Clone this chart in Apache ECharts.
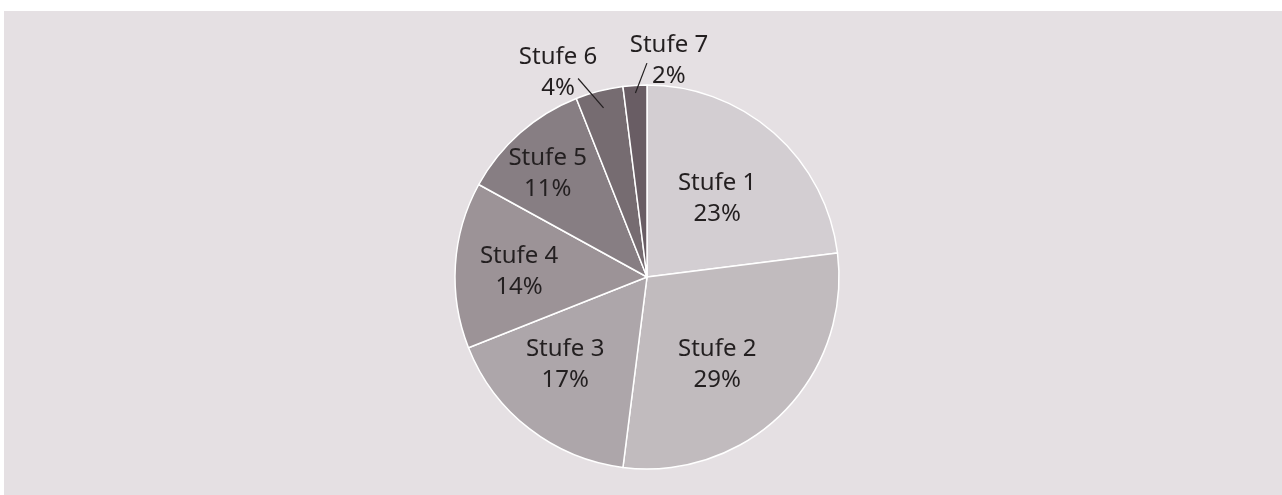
<!DOCTYPE html>
<html>
<head>
<meta charset="utf-8">
<script src="https://cdn.jsdelivr.net/npm/echarts@6/dist/echarts.min.js"></script>
<style>
  html, body { margin: 0; padding: 0; background: #ffffff; width: 1282px; height: 495px; overflow: hidden; }
  #chart { position: absolute; left: 4px; top: 11px; width: 1278px; height: 484px; background: #e5e0e3; }
</style>
</head>
<body>
<div id="chart"></div>
<script>
// ---- data ----
const categories = ['Stufe 1', 'Stufe 2', 'Stufe 3', 'Stufe 4', 'Stufe 5', 'Stufe 6', 'Stufe 7'];
const shares = [23, 29, 17, 14, 11, 4, 2];

// ---- style ----
const sliceColors = ['#d3ced2', '#c1bbbe', '#ada6aa', '#9c9397', '#877e83', '#766c71', '#695d64'];
const CX = 643, CY = 266, R = 192;
// label placement: [radius, angle in degrees clockwise from top]
const labelPolar = [[105, 41.9], [112, 141.2], [120, 223], [128, 272.2], [143, 316], [223, 336.5], [217, 5.8]];
const outsideLabels = [5, 6];
// leader line end offsets relative to label centre, start radius factor
const lineEndOffset = { 5: [20, 6], 6: [-22, 2] };
const lineStartFactor = { 5: 0.91, 6: 0.96 };
const textColor = '#231f20';
const fontFamily = '"Noto Sans", "Open Sans", sans-serif';

const total = shares.reduce((a, b) => a + b, 0);
const midAngles = [];
let acc = 0;
shares.forEach(v => { midAngles.push((acc + v / 2) / total * 360); acc += v; });

function polar(r, deg) {
  const a = deg * Math.PI / 180;
  return [CX + r * Math.sin(a), CY - r * Math.cos(a)];
}

const labelStyle = {
  formatter: '{b}\n{c}%',
  color: textColor,
  fontFamily: fontFamily,
  fontSize: 24,
  lineHeight: 31,
  align: 'center'
};

function layoutFn(p) {
  const i = p.dataIndex;
  const pos = polar(labelPolar[i][0], labelPolar[i][1]);
  const res = { x: pos[0], y: pos[1], align: 'center', verticalAlign: 'middle' };
  if (lineEndOffset[i]) {
    const s = polar(R * lineStartFactor[i], midAngles[i]);
    const e = [pos[0] + lineEndOffset[i][0], pos[1] + lineEndOffset[i][1]];
    res.labelLinePoints = [s, e, e];
  }
  return res;
}

// main slices with inside labels
const mainData = categories.map((name, i) => {
  const isOut = outsideLabels.indexOf(i) >= 0;
  return {
    name: name,
    value: shares[i],
    itemStyle: { color: sliceColors[i] },
    label: { show: !isOut }
  };
});

// transparent overlay carrying the outside labels and leader lines (drawn above slices)
const overlayData = categories.map((name, i) => {
  const isOut = outsideLabels.indexOf(i) >= 0;
  return {
    name: name,
    value: shares[i],
    label: { show: isOut },
    labelLine: { show: isOut }
  };
});

const chart = echarts.init(document.getElementById('chart'), null, { renderer: 'canvas' });
chart.setOption({
  animation: false,
  series: [{
    type: 'pie',
    z: 2,
    center: [CX, CY],
    radius: R,
    startAngle: 90,
    clockwise: true,
    avoidLabelOverlap: false,
    emphasis: { disabled: true },
    itemStyle: { borderColor: '#ffffff', borderWidth: 1.5 },
    label: Object.assign({ show: true, position: 'inside' }, labelStyle),
    labelLine: { show: false },
    labelLayout: layoutFn,
    data: mainData
  }, {
    type: 'pie',
    z: 5,
    silent: true,
    center: [CX, CY],
    radius: R,
    startAngle: 90,
    clockwise: true,
    avoidLabelOverlap: false,
    emphasis: { disabled: true },
    itemStyle: { color: 'rgba(0,0,0,0)', borderWidth: 0 },
    label: Object.assign({ show: true, position: 'outside' }, labelStyle),
    labelLine: {
      show: true,
      length: 10,
      length2: 0,
      lineStyle: { color: textColor, width: 1.2 }
    },
    labelLayout: layoutFn,
    data: overlayData
  }]
});
</script>
</body>
</html>
